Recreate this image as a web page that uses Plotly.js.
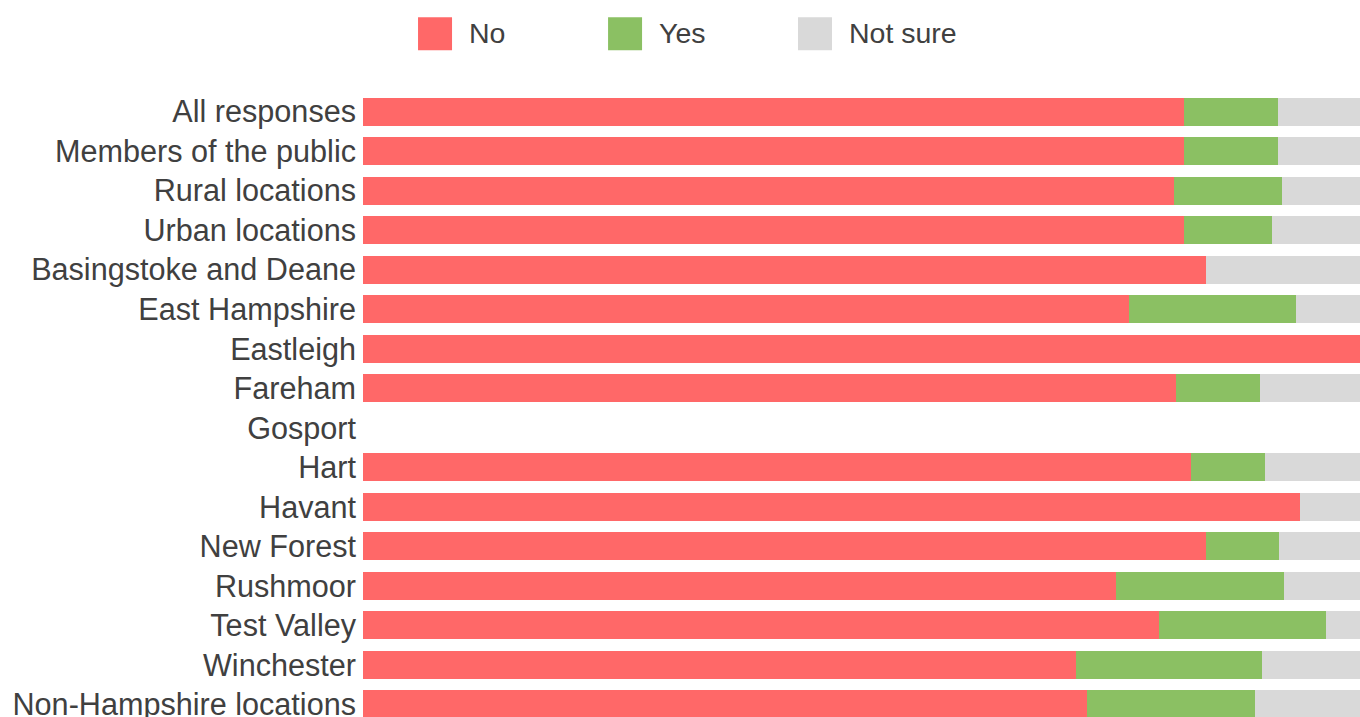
<!DOCTYPE html>
<html>
<head>
<meta charset="utf-8">
<script src="https://cdn.plot.ly/plotly-3.0.1.min.js"></script>
<style>html,body{margin:0;padding:0;background:#fff;}#chart{width:1360px;height:717px;}</style>
</head>
<body>
<div id="chart"></div>
<script>
const categories = ["All responses","Members of the public","Rural locations","Urban locations","Basingstoke and Deane","East Hampshire","Eastleigh","Fareham","Gosport","Hart","Havant","New Forest","Rushmoor","Test Valley","Winchester","Non-Hampshire locations"];
const noValues      = [82.3, 82.3, 81.3, 82.3, 84.6, 76.8, 100, 81.5, 0, 83.0, 94.0, 84.6, 75.5, 79.8, 71.5, 72.6];
const yesValues     = [9.5, 9.5, 10.9, 8.9, 0, 16.8, 0, 8.5, 0, 7.5, 0, 7.3, 16.9, 16.8, 18.7, 16.9];
const notSureValues = [8.2, 8.2, 7.8, 8.8, 15.4, 6.4, 0, 10.0, 0, 9.5, 6.0, 8.1, 7.6, 3.4, 9.8, 10.5];
const seriesNames = ["No","Yes","Not sure"];
const seriesColors = ["#ff6868","#8bc063","#d9d9d9"];

const seriesValues = [noValues, yesValues, notSureValues];
const traces = seriesNames.map((name, i) => ({
  type: "bar",
  orientation: "h",
  name: name,
  y: categories,
  x: seriesValues[i],
  marker: {color: seriesColors[i], line: {width: 0}},
  hoverinfo: "name+x"
}));

const font = "Arial, 'Liberation Sans', sans-serif";
const textColor = "#404040";

// custom legend with large squares
const legendX = [0.0552, 0.2458, 0.4363];
const shapes = [];
const annotations = [];
seriesNames.forEach((name, i) => {
  shapes.push({type: "rect", xref: "paper", yref: "paper",
    x0: legendX[i], x1: legendX[i] + 0.0341, y0: 1.0667, y1: 1.1195,
    fillcolor: seriesColors[i], line: {width: 0}});
  annotations.push({xref: "paper", yref: "paper", x: legendX[i] + 0.0492, y: 1.0947,
    xanchor: "left", yanchor: "middle", text: name, showarrow: false,
    font: {family: font, size: 28.5, color: textColor}});
});

const layout = {
  width: 1360, height: 717,
  margin: {l: 363, r: 0, t: 92, b: 0, pad: 0},
  barmode: "stack",
  bargap: 0.284,
  showlegend: false,
  paper_bgcolor: "#fff",
  plot_bgcolor: "#fff",
  xaxis: {range: [0, 100], visible: false, fixedrange: true},
  yaxis: {type: "category", range: [15.32, -0.5], autorange: false,
    showgrid: false, zeroline: false, showline: false, ticks: "",
    ticklabelstandoff: 6,
    tickfont: {family: font, size: 30.6, color: textColor}},
  shapes: shapes,
  annotations: annotations
};

Plotly.newPlot("chart", traces, layout, {displayModeBar: false, staticPlot: true});
</script>
</body>
</html>
